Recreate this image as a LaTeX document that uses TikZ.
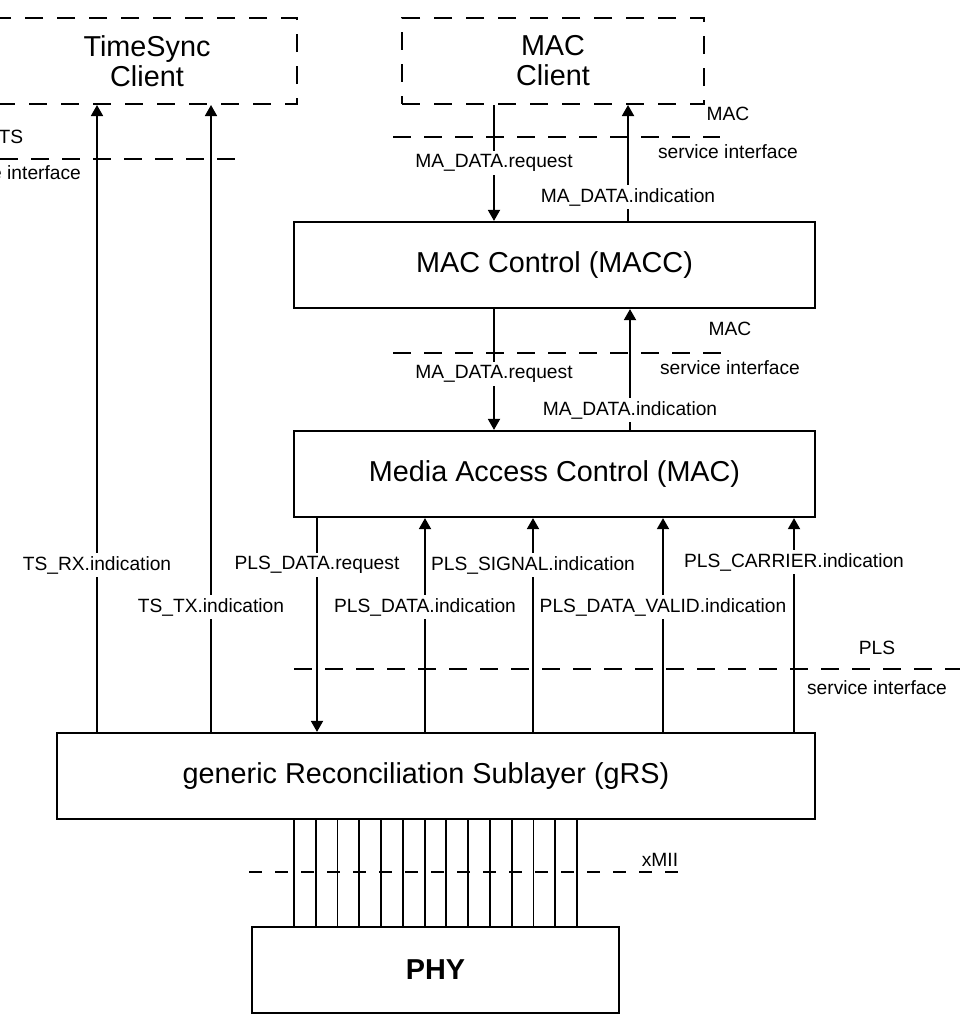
\documentclass[tikz,border=0pt]{standalone}
\usepackage{fontspec}
\setmainfont{Liberation Sans}
\usetikzlibrary{arrows.meta,backgrounds}

\begin{document}
\begin{tikzpicture}[x=0.5pt,y=-0.5pt,
	box/.style={draw, line width=1.1pt, minimum height=43pt, align=center, font=\fontsize{14.4}{15}\selectfont},
	client/.style={box, line width=1pt, dash pattern=on 9pt off 7pt},
	lbl/.style={fill=white, inner sep=1.5pt, font=\fontsize{9.6}{11}\selectfont},
	note/.style={inner sep=1pt, font=\fontsize{9.6}{11}\selectfont},
	iface/.style={line width=0.8pt, dash pattern=on 9pt off 6.5pt},
	sig/.style={line width=0.9pt, -{Triangle[length=5.5pt,width=6pt]}},
	bus/.style={line width=0.9pt}]
\useasboundingbox (0,0) rectangle (960,1017);
\clip (0,0) rectangle (960,1017);

% layers
\node[client, minimum width=150pt] (tsc) at (147,61) {TimeSync\\Client};
\node[client, minimum width=151pt] (mcl) at (553,61) {MAC\\Client};
\node[box, minimum width=260.5pt] (macc) at (554.5,265) {MAC Control (MACC)};
\node[box, minimum width=260.5pt] (mac) at (554.5,474) {Media Access Control (MAC)};
\node[box, minimum width=379pt] (grs) at (436,776) {generic Reconciliation Sublayer (gRS)\kern10pt};
\node[box, minimum width=183.5pt, font=\fontsize{14.4}{15}\selectfont\bfseries] (phy) at (435.5,970) {PHY};

% service interfaces
\draw[iface] (0,159) -- (242,159);
\draw[iface] (393,137) -- (720,137);
\draw[iface] (393,353) -- (722,353);
\draw[iface] (294,669) -- (960,669);
\draw[iface, dash pattern=on 6.5pt off 6.5pt] (249,872) -- (685,872);
\node[note] (tsn) at (11,137) {TS};
\node[note] (tss) at (11,173) {service interface};
\node[note] (macn1) at (728,114) {MAC};
\node[note] (macs1) at (728,152) {service interface};
\node[note] (macn2) at (730,329) {MAC};
\node[note] (macs2) at (730,368) {service interface};
\node[note] (plsn) at (877,648) {PLS};
\node[note] (plss) at (877,688) {service interface};
\node[note] (xmii) at (660,860) {xMII};

% primitives
\foreach \n/\x/\y/\t in {mreq1/494/163/MA\_DATA.request, mind1/628/197/MA\_DATA.indication,
	mreq2/494/374/MA\_DATA.request, mind2/630/410/MA\_DATA.indication,
	rx/97/565/TS\_RX.indication, tx/211/607/TS\_TX.indication,
	pdr/317/565/PLS\_DATA.request, pdi/425/607/PLS\_DATA.indication,
	psi/533/565/PLS\_SIGNAL.indication, pdv/663/607/PLS\_DATA\_VALID.indication,
	pci/794/562/PLS\_CARRIER.indication}
	\node[lbl] (\n) at (\x,\y) {\t};

\begin{scope}[on background layer]
\foreach \n in {rx,tx}
	\draw[sig] (grs.north -| \n) -- (tsc.south -| \n);
\foreach \n in {pdi,psi,pdv,pci}
	\draw[sig] (grs.north -| \n) -- (mac.south -| \n);
\draw[sig] (mac.south -| pdr) -- (grs.north -| pdr);
\draw[sig] (mcl.south -| mreq1) -- (macc.north -| mreq1);
\draw[sig] (macc.north -| mind1) -- (mcl.south -| mind1);
\draw[sig] (macc.south -| mreq2) -- (mac.north -| mreq2);
\draw[sig] (mac.north -| mind2) -- (macc.south -| mind2);
\foreach \i in {0,...,13} {
	\coordinate (b) at ({294+21.77*\i},0);
	\draw[bus] (grs.south -| b) -- (phy.north -| b);
}
\end{scope}
\end{tikzpicture}
\end{document}
